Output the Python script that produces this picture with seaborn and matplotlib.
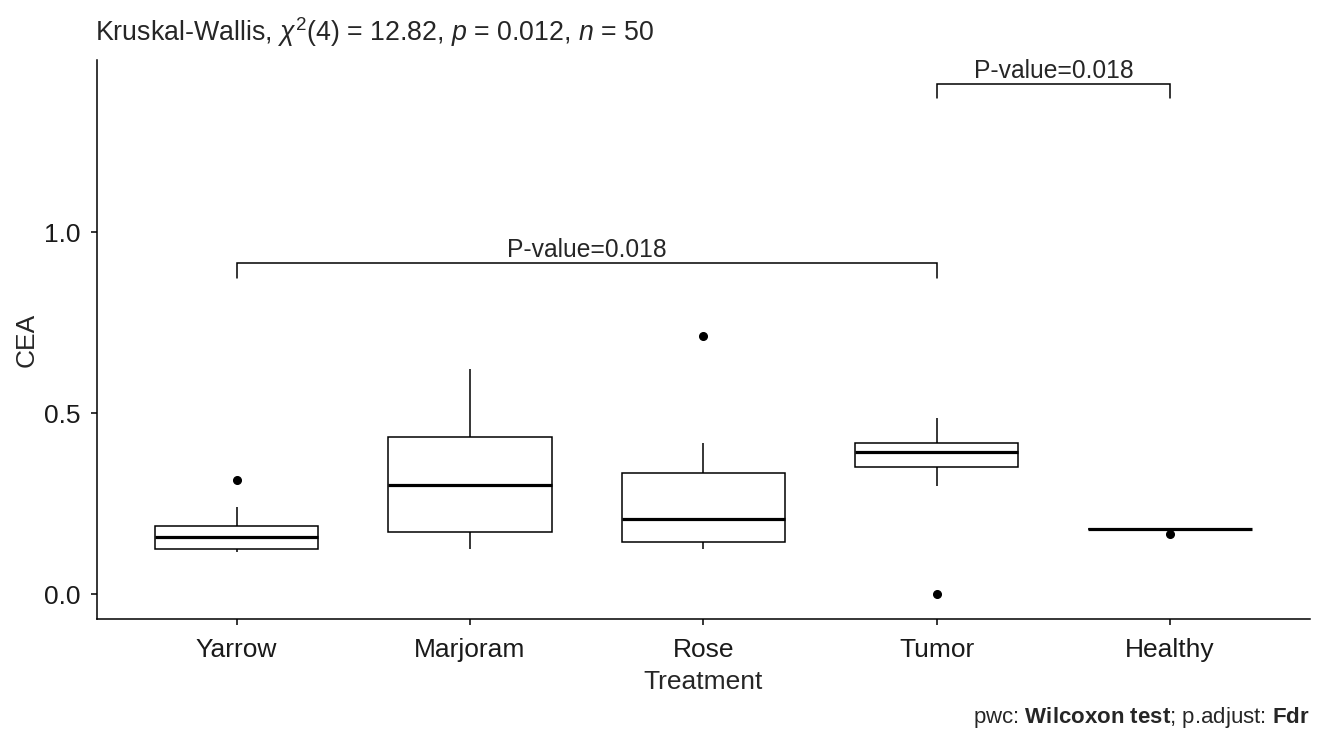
import numpy as np
import pandas as pd
import seaborn as sns
import matplotlib.pyplot as plt

# CEA values per treatment (10 per group, n = 50)
treatments = ["Yarrow", "Marjoram", "Rose", "Tumor", "Healthy"]
yarrow = [0.117, 0.120, 0.125, 0.129, 0.155, 0.161, 0.180, 0.191, 0.241, 0.315]
marjoram = [0.125, 0.150, 0.170, 0.182, 0.290, 0.314, 0.420, 0.438, 0.520, 0.623]
rose = [0.126, 0.135, 0.143, 0.151, 0.200, 0.218, 0.320, 0.339, 0.419, 0.714]
tumor = [0.000, 0.299, 0.350, 0.358, 0.388, 0.396, 0.415, 0.420, 0.450, 0.486]
healthy = [0.168, 0.181, 0.181, 0.181, 0.181, 0.181, 0.181, 0.181, 0.181, 0.181]

# pairwise comparisons shown as brackets
pairs = [("Yarrow", "Tumor"), ("Tumor", "Healthy")]
pair_y = [0.915, 1.41]
pair_labels = ["P-value=0.018", "P-value=0.018"]

df = pd.DataFrame({
    "Treatment": np.repeat(treatments, 10),
    "CEA": yarrow + marjoram + rose + tumor + healthy,
})

sns.set_style("ticks")
plt.rcParams["font.family"] = ["Liberation Sans", "DejaVu Sans"]
plt.rcParams["mathtext.fontset"] = "custom"
plt.rcParams["mathtext.rm"] = "Liberation Sans"
plt.rcParams["mathtext.it"] = "Liberation Sans:italic"
plt.rcParams["mathtext.bf"] = "Liberation Sans:bold"

fig = plt.figure(figsize=(13.17, 7.36), dpi=100)
ax = fig.add_axes([0.0734, 0.1585, 0.9213, 0.76])

sns.boxplot(data=df, x="Treatment", y="CEA", order=treatments, ax=ax,
            color="white", linecolor="black", linewidth=1.1, width=0.7,
            whis=1.5, showcaps=False, fliersize=5.5,
            flierprops=dict(marker="o", markerfacecolor="black",
                            markeredgecolor="black"),
            medianprops=dict(linewidth=2.3, color="black"))

# brackets
tip = 0.04
for (a, b), y, lab in zip(pairs, pair_y, pair_labels):
    x1, x2 = treatments.index(a), treatments.index(b)
    ax.plot([x1, x1, x2, x2], [y - tip, y, y, y - tip], color="black",
            lw=1.1, solid_joinstyle="miter")
    ax.text((x1 + x2) / 2, y + 0.003, lab, ha="center", va="bottom",
            fontsize=17.7)

ax.set_xlim(-0.6, 4.6)
ax.set_ylim(-0.069, 1.476)
ax.set_yticks([0.0, 0.5, 1.0])
ax.set_yticklabels(["0.0", "0.5", "1.0"])
sns.despine(ax=ax)
for s in ["left", "bottom"]:
    ax.spines[s].set_linewidth(1.1)
    ax.spines[s].set_color("black")
ax.tick_params(axis="both", length=4, width=1.1, color="black",
               labelsize=19, labelcolor="#1a1a1a")
ax.tick_params(axis="x", pad=9.5)
ax.tick_params(axis="y", pad=7.5)
ax.set_xlabel("Treatment", fontsize=19, labelpad=6)
ax.set_ylabel("CEA", fontsize=19, labelpad=4)

ax.set_title(r"Kruskal-Wallis, $\chi^2$(4) = 12.82, $\mathit{p}$ = 0.012, $\mathit{n}$ = 50",
             loc="left", fontsize=19.3, pad=14, x=-0.001)
fig.text(0.9947, 0.0258,
         r"pwc: $\mathbf{Wilcoxon\ test}$; p.adjust: $\mathbf{Fdr}$",
         ha="right", va="center", fontsize=16)

fig.savefig("out.png", dpi=100)
